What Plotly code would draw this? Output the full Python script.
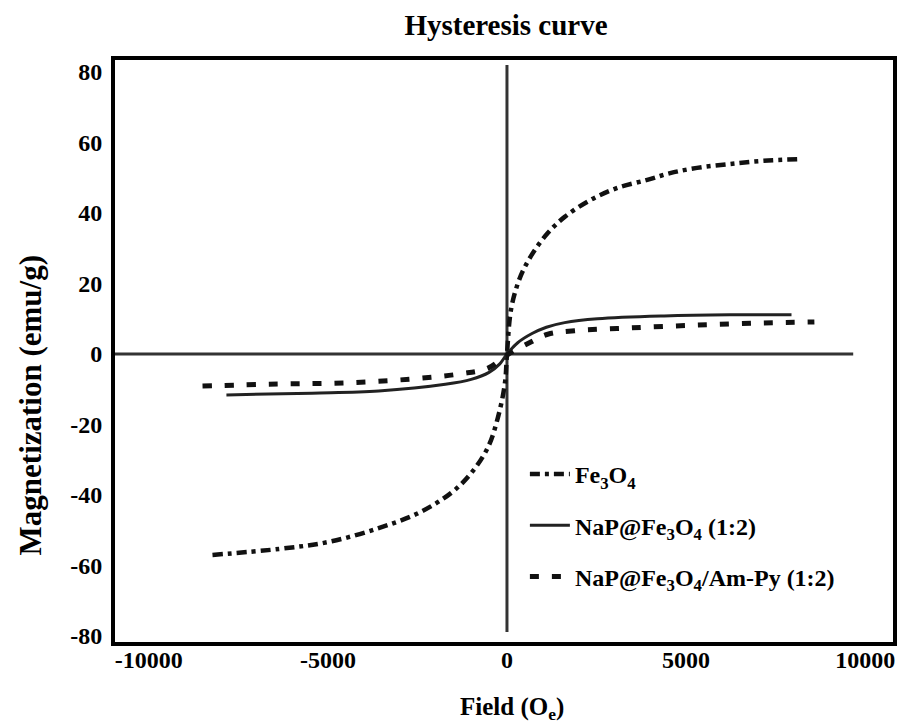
import plotly.graph_objects as go

# ---- data ----
fe3o4_field = [-8222, -6361, -4972, -3583, -2472, -1556, -1000, -528, -250, -56, 0,
               111, 306, 500, 778, 1139, 1611, 2333, 3083, 3917, 4556, 5306, 6222, 7167, 8222]
fe3o4_mag = [-57.0, -55.3, -53.3, -49.4, -45.1, -39.4, -33.8, -26.4, -17.9, -8.2, 0,
             12.5, 20.1, 24.7, 29.5, 34.3, 38.9, 43.7, 47.1, 49.4, 51.3, 52.8, 53.9, 54.8, 55.3]

nap_field = [-7833, -5444, -3583, -1722, -1000, -500, -200, 0,
             300, 700, 1100, 1611, 2528, 4389, 6222, 7944]
nap_mag = [-11.6, -11.1, -10.5, -8.6, -7.2, -5.2, -2.8, 0,
           3.2, 5.8, 7.6, 8.9, 10.0, 10.8, 11.1, 11.1]

ampy_field = [-8500, -6361, -4500, -2667, -1278, -528, 0,
              667, 1139, 1889, 3444, 5306, 7167, 8583]
ampy_mag = [-9.1, -8.5, -8.2, -7.1, -5.6, -4.0, -0.3,
            3.4, 5.6, 6.6, 7.4, 8.2, 8.8, 9.1]

series_names = ["Fe<sub>3</sub>O<sub>4</sub>",
                "NaP@Fe<sub>3</sub>O<sub>4</sub> (1:2)",
                "NaP@Fe<sub>3</sub>O<sub>4</sub>/Am-Py (1:2)"]

x_tickvals = [-10000, -5000, 0, 5000, 10000]
x_ticktext = ["-10000", "-5000", "0", "5000", "10000"]
y_tickvals = [-80, -60, -40, -20, 0, 20, 40, 60, 80]
y_ticktext = ["-80", "-60", "-40", "-20", "0", "20", "40", "60", "80"]

title_text = "Hysteresis curve"
x_title = "Field (O<sub>e</sub>)"
y_title = "Magnetization (emu/g)"

# ---- figure ----
FONT = "Liberation Serif, Times New Roman, serif"
W, H = 902, 725
L, R, T, B = 115, 5, 60, 83
plot_w, plot_h = W - L - R, H - T - B

fig = go.Figure()
fig.add_trace(go.Scatter(x=fe3o4_field, y=fe3o4_mag, mode="lines", name=series_names[0],
                         legendgroup="a", line=dict(color="#111111", width=4.5,
                                                    dash="10px,5px,4px,5px", shape="spline")))
fig.add_trace(go.Scatter(x=nap_field, y=nap_mag, mode="lines", name=series_names[1],
                         legendgroup="b", line=dict(color="#222222", width=3, shape="spline")))
fig.add_trace(go.Scatter(x=ampy_field, y=ampy_mag, mode="lines", name=series_names[2],
                         legendgroup="c", line=dict(color="#111111", width=5,
                                                    dash="9px,13px", shape="spline")))

# zero lines (axes crossing at origin)
fig.add_shape(type="line", xref="paper", yref="y", x0=0, x1=(857 - L) / plot_w, y0=0, y1=0,
              line=dict(color="#333333", width=3), layer="below")
fig.add_shape(type="line", xref="x", yref="paper", x0=0, x1=0,
              y0=(642 - 632) / plot_h, y1=(642 - 65) / plot_h,
              line=dict(color="#333333", width=3), layer="below")

fig.add_annotation(text=f"<b>{y_title}</b>", xref="paper", yref="paper",
                   x=(30 - L) / plot_w, y=(642 - 405) / plot_h, textangle=-90,
                   showarrow=False, font=dict(family=FONT, size=31, color="#000"),
                   xanchor="center", yanchor="middle")
fig.add_annotation(text=f"<b>{x_title}</b>", xref="paper", yref="paper",
                   x=(514 - L) / plot_w, y=(642 - 708) / plot_h,
                   showarrow=False, font=dict(family=FONT, size=25, color="#000"),
                   xanchor="center", yanchor="middle")

fig.update_layout(
    width=W, height=H,
    margin=dict(l=L, r=R, t=T, b=B),
    paper_bgcolor="white", plot_bgcolor="white",
    title=dict(text=f"<b>{title_text}</b>", x=506 / W, xref="container", xanchor="center",
               y=1 - 25 / H, yref="container", yanchor="middle",
               font=dict(family=FONT, size=29, color="#000")),
    showlegend=True,
    legend=dict(x=(527 - L) / plot_w, y=(642 - 452) / plot_h, xanchor="left", yanchor="top",
                bgcolor="rgba(0,0,0,0)", font=dict(family=FONT, size=24, color="#000", weight="bold"),
                traceorder="grouped", tracegroupgap=17, itemwidth=40),
    xaxis=dict(range=[-10944, 10778], tickvals=x_tickvals, ticktext=x_ticktext,
               showgrid=False, zeroline=False, showline=True, mirror=True,
               linecolor="#000", linewidth=4, ticks="", ticklabelstandoff=-7,
               tickfont=dict(family=FONT, size=24, color="#000", weight="bold")),
    yaxis=dict(range=[-81.7, 83.4], tickvals=y_tickvals, ticktext=y_ticktext,
               showgrid=False, zeroline=False, showline=True, mirror=True,
               linecolor="#000", linewidth=4, ticks="", ticklabelstandoff=4,
               tickfont=dict(family=FONT, size=24, color="#000", weight="bold")),
)

fig.write_html("out.html")
